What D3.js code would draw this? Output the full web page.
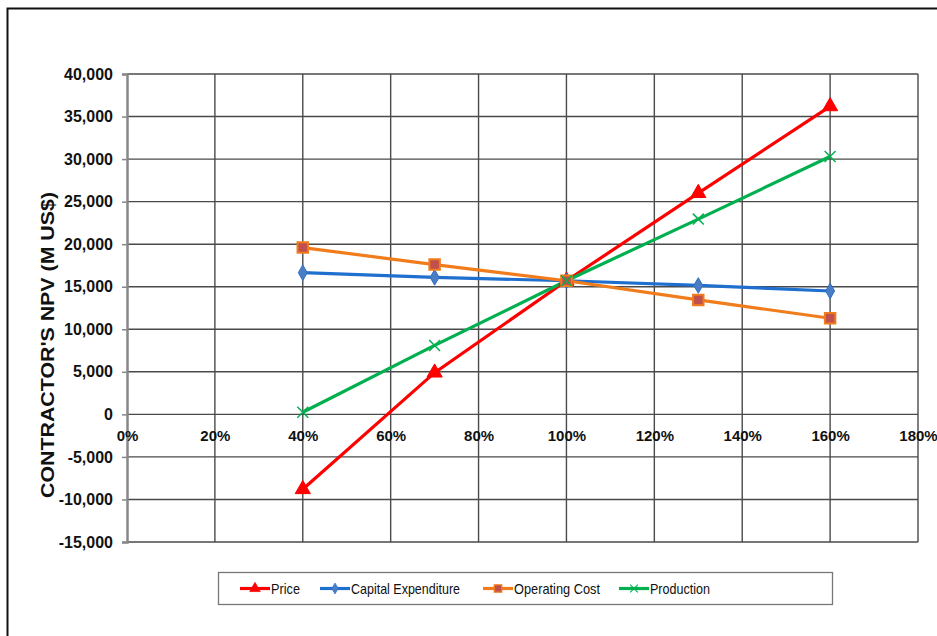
<!DOCTYPE html>
<html>
<head>
<meta charset="utf-8">
<script src="https://cdn.jsdelivr.net/npm/d3@7"></script>
<style>
  html, body { margin: 0; padding: 0; background: #fff; }
  svg { display: block; font-family: Arial, "Liberation Sans", sans-serif; }
</style>
</head>
<body>
<svg id="chart" width="937" height="636"></svg>
<script>
// Sensitivity of contractor NPV to each input, as a share of its base value
const factors = [0.4, 0.7, 1.0, 1.3, 1.6];
const price = [-8800, 4900, 15700, 26000, 36200];
const capitalExpenditure = [16650, 16100, 15700, 15150, 14500];
const operatingCost = [19600, 17600, 15700, 13450, 11300];
const production = [250, 8100, 15700, 22950, 30300];

const seriesNames = ["Price", "Capital Expenditure", "Operating Cost", "Production"];
const xTicks = [0, 0.2, 0.4, 0.6, 0.8, 1.0, 1.2, 1.4, 1.6, 1.8];
const yTicks = [-15000, -10000, -5000, 0, 5000, 10000, 15000, 20000, 25000, 30000, 35000, 40000];
const yTitle = "CONTRACTOR'S NPV (M US$)";

const series = [
  { name: seriesNames[0], values: price, color: "#ff0000", marker: "triangle", fill: "#ff0000", stroke: "#ff0000" },
  { name: seriesNames[1], values: capitalExpenditure, color: "#1f6fce", marker: "diamond", fill: "#4a7ec4", stroke: "#2f6fc4" },
  { name: seriesNames[2], values: operatingCost, color: "#f07c1c", marker: "square", fill: "#c0504d", stroke: "#f07c1c" },
  { name: seriesNames[3], values: production, color: "#00b04f", marker: "cross", fill: "none", stroke: "#00b04f" }
];

const svg = d3.select("#chart");

// outer frame
svg.append("path")
  .attr("d", "M7.5,640 V8.5 H940")
  .attr("fill", "none").attr("stroke", "#111").attr("stroke-width", 2);

const plotLeft = 127, plotRight = 918, plotTop = 74, plotBottom = 542;
const x = d3.scaleLinear().domain([0, 1.8]).range([plotLeft, plotRight]);
const y = d3.scaleLinear().domain([-15000, 40000]).range([plotBottom, plotTop]);

const grid = svg.append("g");
// horizontal gridlines
grid.selectAll("line.h").data(yTicks).enter().append("line")
  .attr("x1", plotLeft).attr("x2", plotRight)
  .attr("y1", d => y(d)).attr("y2", d => y(d))
  .attr("stroke", "#4a4a4a").attr("stroke-width", 1.4);
// vertical gridlines
grid.selectAll("line.v").data(xTicks.slice(1)).enter().append("line")
  .attr("x1", d => x(d)).attr("x2", d => x(d))
  .attr("y1", plotTop).attr("y2", plotBottom)
  .attr("stroke", "#4a4a4a").attr("stroke-width", 1.4);

// y axis, thousands with a plain hyphen for negatives
const commaFmt = d3.format(",");
const yAxis = svg.append("g")
  .attr("transform", `translate(${plotLeft},0)`)
  .call(d3.axisLeft(y).tickValues(yTicks).tickSize(5).tickPadding(9)
    .tickFormat(d => commaFmt(d).replace("\u2212", "-")));
yAxis.select(".domain").attr("stroke", "#888").attr("stroke-width", 2.5);
yAxis.selectAll(".tick line").attr("stroke", "#888").attr("stroke-width", 1.5);
yAxis.selectAll("text")
  .attr("font-size", 16).attr("font-weight", "bold").attr("fill", "#111")
  .attr("font-family", "Arial, 'Liberation Sans', sans-serif");

// x axis labels sit just under the zero line
const xAxis = svg.append("g")
  .attr("transform", `translate(0,${y(0)})`)
  .call(d3.axisBottom(x).tickValues(xTicks).tickSize(0).tickPadding(16)
    .tickFormat(d3.format(".0%")));
xAxis.select(".domain").remove();
xAxis.selectAll("text")
  .attr("font-size", 15).attr("font-weight", "bold").attr("fill", "#111")
  .attr("font-family", "Arial, 'Liberation Sans', sans-serif");

// y axis title
svg.append("text")
  .attr("transform", `translate(53.5,345) rotate(-90)`)
  .attr("text-anchor", "middle")
  .attr("font-size", 18).attr("font-weight", "bold").attr("fill", "#111")
  .attr("textLength", 306).attr("lengthAdjust", "spacingAndGlyphs")
  .text(yTitle);

const symbolFor = {
  triangle: d3.symbol().type(d3.symbolTriangle).size(100),
  diamond: d3.symbol().type(d3.symbolDiamond).size(70),
  square: d3.symbol().type(d3.symbolSquare).size(110),
  cross: d3.symbol().type(d3.symbolTimes).size(80)
};

const line = d3.line().x((d, i) => x(factors[i])).y(d => y(d));

function drawMarker(g, s, cx, cy, scale = 1) {
  const p = g.append("path")
    .attr("d", symbolFor[s.marker]())
    .attr("transform", `translate(${cx},${cy}) scale(${scale})`);
  if (s.marker === "cross") {
    p.attr("fill", "none").attr("stroke", s.stroke).attr("stroke-width", 1.5);
  } else {
    p.attr("fill", s.fill).attr("stroke", s.stroke).attr("stroke-width", s.marker === "square" ? 2 : 1);
  }
}

const plot = svg.append("g");
series.forEach(s => {
  plot.append("path")
    .attr("d", line(s.values))
    .attr("fill", "none").attr("stroke", s.color).attr("stroke-width", 3.2);
});
series.forEach(s => {
  s.values.forEach((v, i) => drawMarker(plot, s, x(factors[i]), y(v)));
});

// legend
const legend = svg.append("g");
legend.append("rect")
  .attr("x", 218.5).attr("y", 572.5).attr("width", 614).attr("height", 32)
  .attr("fill", "#fff").attr("stroke", "#777").attr("stroke-width", 1.3);
const legendX = [240, 320, 483, 619];
const legendTextWidth = [29, 109, 86, 60];
series.forEach((s, i) => {
  const gx = legendX[i], gy = 588.5;
  legend.append("line")
    .attr("x1", gx).attr("x2", gx + 30).attr("y1", gy).attr("y2", gy)
    .attr("stroke", s.color).attr("stroke-width", 3.2);
  drawMarker(legend, s, gx + 15, gy, 0.7);
  legend.append("text")
    .attr("x", gx + 31).attr("y", gy + 5.5)
    .attr("font-size", 15).attr("fill", "#111")
    .attr("textLength", legendTextWidth[i]).attr("lengthAdjust", "spacingAndGlyphs")
    .text(s.name);
});
</script>
</body>
</html>
